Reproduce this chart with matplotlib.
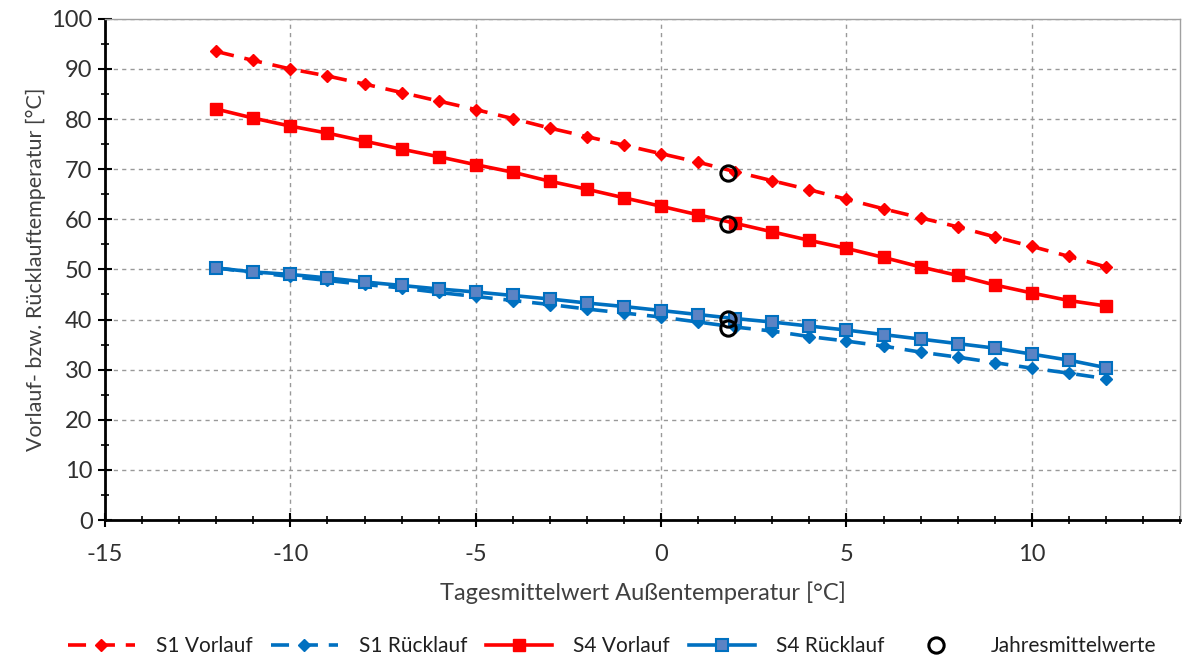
import numpy as np
import matplotlib.pyplot as plt
from matplotlib.ticker import MultipleLocator

plt.rcParams['font.family'] = ['Lato', 'DejaVu Sans']
plt.rcParams['axes.unicode_minus'] = False

# Tagesmittelwert Aussentemperatur
t_aussen = list(range(-12, 13))

s1_vorlauf = [93.5, 91.7, 90.0, 88.6, 87.0, 85.3, 83.6, 81.9, 80.1, 78.2, 76.5, 74.8, 73.1,
              71.4, 69.5, 67.7, 65.9, 64.0, 62.1, 60.3, 58.5, 56.5, 54.6, 52.6, 50.5]
s1_ruecklauf = [50.3, 49.4, 48.6, 47.8, 47.0, 46.3, 45.4, 44.6, 43.8, 43.0, 42.1, 41.3, 40.5,
                39.5, 38.5, 37.7, 36.6, 35.7, 34.7, 33.5, 32.5, 31.4, 30.3, 29.3, 28.2]
s4_vorlauf = [82.0, 80.2, 78.6, 77.2, 75.6, 74.0, 72.5, 70.9, 69.4, 67.6, 66.0, 64.3, 62.6,
              60.9, 59.2, 57.5, 55.8, 54.2, 52.4, 50.5, 48.8, 46.9, 45.3, 43.8, 42.7]
s4_ruecklauf = [50.3, 49.5, 49.0, 48.3, 47.5, 46.8, 46.1, 45.5, 44.8, 44.1, 43.3, 42.6, 41.8,
                41.0, 40.2, 39.5, 38.7, 37.9, 37.0, 36.1, 35.2, 34.3, 33.1, 31.9, 30.4]

# Jahresmittelwerte
jm_x = [1.8, 1.8, 1.8, 1.8]
jm_y = [69.3, 59.1, 40.2, 38.4]

rot = '#FF0000'
blau = '#0070C0'

fig = plt.figure(figsize=(11.84, 6.62), dpi=100)
ax = fig.add_axes([0.0887, 0.2145, 0.908, 0.757])

ax.plot(t_aussen, s1_vorlauf, color=rot, lw=2.6, ls=(0, (5, 3)), marker='D', ms=6.5,
        label='S1 Vorlauf')
ax.plot(t_aussen, s1_ruecklauf, color=blau, lw=2.6, ls=(0, (5, 3)), marker='D', ms=6.5,
        label='S1 Rücklauf')
ax.plot(t_aussen, s4_vorlauf, color=rot, lw=2.6, marker='s', ms=8, label='S4 Vorlauf')
ax.plot(t_aussen, s4_ruecklauf, color=blau, lw=2.6, marker='s', ms=8,
        markerfacecolor='#5B83C4', markeredgecolor=blau, markeredgewidth=1.5,
        label='S4 Rücklauf')
ax.plot(jm_x, jm_y, ls='none', marker='o', ms=11, markerfacecolor='none',
        markeredgecolor='black', markeredgewidth=2.2, label='Jahresmittelwerte')

ax.set_xlim(-15, 14)
ax.set_ylim(0, 100)
ax.xaxis.set_major_locator(MultipleLocator(5))
ax.xaxis.set_minor_locator(MultipleLocator(1))
ax.yaxis.set_major_locator(MultipleLocator(10))
ax.yaxis.set_minor_locator(MultipleLocator(5))

ax.grid(True, which='major', color='#999999', ls=(0, (3, 3)), lw=1)
ax.set_axisbelow(True)

for s in ['top', 'right']:
    ax.spines[s].set_color('#A0A0A0')
    ax.spines[s].set_linewidth(1)
for s in ['left', 'bottom']:
    ax.spines[s].set_color('black')
    ax.spines[s].set_linewidth(2)

ax.tick_params(which='major', direction='inout', length=10, width=1.5, labelsize=17,
               pad=4, labelcolor='#303030')
ax.tick_params(which='minor', direction='inout', length=6, width=1.2)
ax.tick_params(axis='x', pad=12)

ax.set_xlabel('Tagesmittelwert Außentemperatur [°C]', fontsize=17, color='#404040', labelpad=12)
ax.set_ylabel('Vorlauf- bzw. Rücklauftemperatur [°C]', fontsize=15.5, color='#404040',
              labelpad=4)

fig.legend(loc='lower center', bbox_to_anchor=(0.517, -0.02), ncol=5, frameon=False,
           fontsize=15, handlelength=3.2, columnspacing=0.9, handletextpad=1.0,
           labelcolor='#202020')

fig.savefig('out.png', dpi=100)
